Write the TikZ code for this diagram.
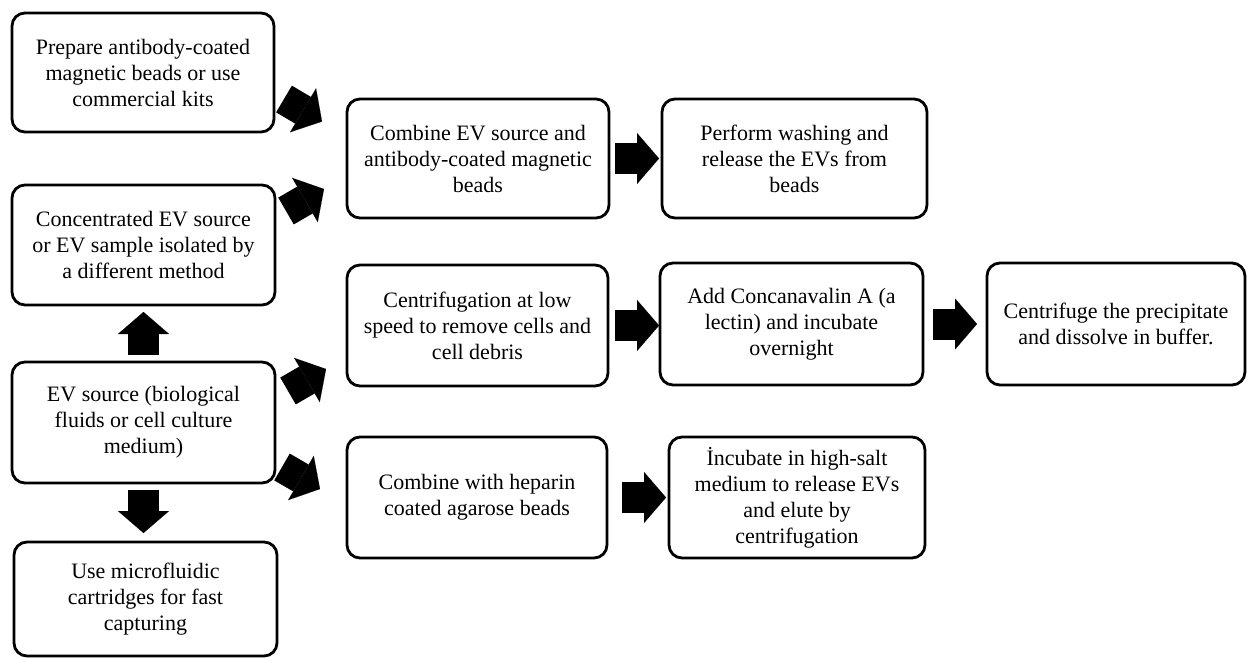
\documentclass[tikz,border=0pt]{standalone}
\usepackage{fontspec}
\setmainfont{Liberation Serif}
\usepackage{tikz}
\usetikzlibrary{arrows.meta,calc}

\begin{document}
\begin{tikzpicture}[x=1pt,y=-1pt,
  stepbox/.style={draw=black, line width=2.8pt, rounded corners=13pt, outer sep=0pt, inner sep=3pt,
    align=center, minimum width=262pt, minimum height=120pt, font=\fontsize{22}{26}\selectfont},
  fat/.style={draw=black, line width=31pt, -{Triangle[length=22pt,width=51pt,line width=0.01pt]}}]
  \useasboundingbox (0,0) rectangle (1247,658);
  % left column
  \node[stepbox, minimum height=119pt] (prep) at (143,72.5) {Prepare antibody-coated\\magnetic beads or use\\commercial kits};
  \node[stepbox, minimum width=263pt] (conc) at (143.5,245) {Concentrated EV source\\or EV sample isolated by\\a different method};
  \node[stepbox, minimum width=263pt, minimum height=121pt] (src) at (143.5,422.5) {EV source (biological\\fluids or cell culture\\medium)};
  \node[stepbox, minimum width=263pt, minimum height=114pt] (micro) at (145.5,599) {Use microfluidic\\cartridges for fast\\capturing};
  % right part
  \node[stepbox, minimum height=119pt] (comb) at (478,158.5) {Combine EV source and\\antibody-coated magnetic\\beads};
  \node[stepbox, minimum width=265pt, minimum height=119pt] (wash) at (794.5,158.5) {Perform washing and\\release the EVs from\\beads};
  \node[stepbox, minimum width=261pt, minimum height=121pt] (cent) at (477.5,325.5) {Centrifugation at low\\speed to remove cells and\\cell debris};
  \node[stepbox, minimum width=263pt, minimum height=122pt] (cona) at (791.5,324) {Add Concanavalin A (a\\lectin) and incubate\\overnight};
  \node[stepbox, minimum width=258pt, minimum height=122pt] (prec) at (1116,324) {Centrifuge the precipitate\\and dissolve in buffer.};
  \node[stepbox, minimum width=260pt, minimum height=121pt] (hep) at (477,497.5) {Combine with heparin\\coated agarose beads};
  \node[stepbox, minimum width=256pt, minimum height=121pt] (salt) at (797,497.5) {İncubate in high-salt\\medium to release EVs\\and elute by\\centrifugation};

  \draw[fat] ($(prep.east)+(10,26.5)$) -- ($(comb.west)+(-25,-37)$);
  \draw[fat] ($(conc.east)+(11,-34)$) -- ($(comb.west)+(-23,30.5)$);
  \draw[fat] ($(src.east)+(13,-31.5)$) -- ($(cent.west)+(-21,43.5)$);
  \draw[fat] ($(src.east)+(7,44.5)$) -- ($(hep.west)+(-27,-8.5)$);
  \draw[fat, shorten <=7pt, shorten >=7pt] (src.north) -- (conc.south);
  \draw[fat, shorten <=7pt, shorten >=9pt] (src.south) -- (src.south |- micro.north);
  \draw[fat, shorten <=6pt, shorten >=3pt] (comb.east) -- (wash.west);
  \draw[fat, shorten <=7pt, shorten >=1pt] (cent.east) -- (cent.east -| cona.west);
  \draw[fat, shorten <=10pt, shorten >=10pt] (cona.east) -- (prec.west);
  \draw[fat, shorten <=15pt, shorten >=3pt] (hep.east) -- (salt.west);
\end{tikzpicture}
\end{document}
